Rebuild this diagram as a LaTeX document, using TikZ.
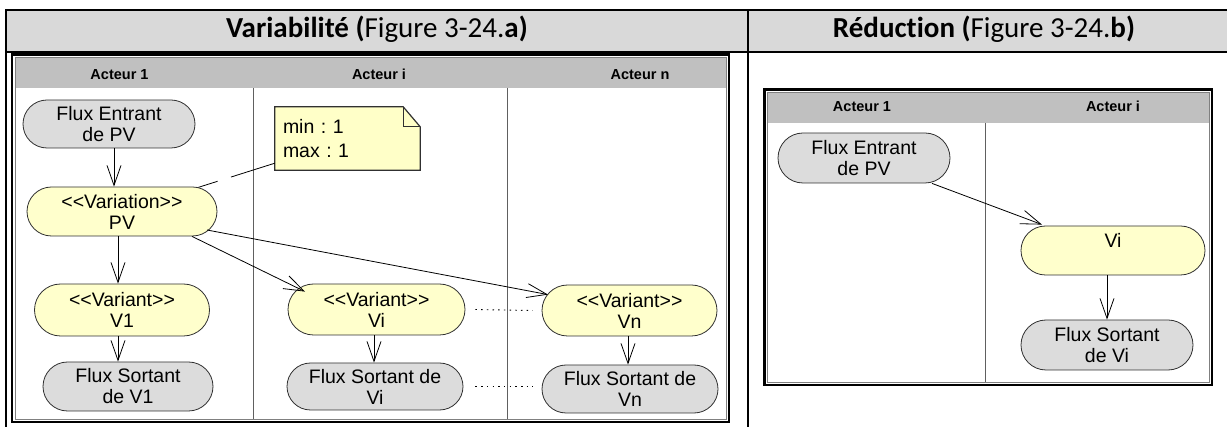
\documentclass[tikz,border=0pt]{standalone}
\usepackage{fontspec}
\setmainfont{Liberation Sans}
\newfontfamily\myHeadFamily[Ligatures=NoCommon]{Carlito}
\usetikzlibrary{shapes.misc,arrows.meta,calc}
\definecolor{hdrgray}{HTML}{D9D9D9}
\definecolor{lanegray}{HTML}{C0C0C0}
\definecolor{nodegray}{HTML}{DCDCDC}
\definecolor{nodeyellow}{HTML}{FFFFCC}
\definecolor{notefill}{HTML}{FFFFC8}
\definecolor{edgecol}{HTML}{303030}
\definecolor{divgray}{HTML}{606060}
\newcommand\myNodeFont{\fontsize{19.5}{21}\selectfont}
\newcommand\myNoteFont{\fontsize{19.5}{24}\selectfont\frenchspacing}
\newcommand\myLaneFont{\fontsize{14.5}{16}\selectfont\bfseries}
\newcommand\myHeadFont{\myHeadFamily\fontsize{29}{32}\selectfont}
\begin{document}
\begin{tikzpicture}[x=1pt,y=-1pt,
  act/.style={rounded rectangle, draw=edgecol, line width=0.8pt, inner sep=0pt, align=center, font=\myNodeFont},
  grayact/.style={act, fill=nodegray},
  yelact/.style={act, fill=nodeyellow},
  arr/.style={-{Straight Barb[length=20pt,width=14pt]}, line width=0.8pt},
  lanehdr/.style={font=\myLaneFont, anchor=base, inner sep=0pt},
  headtxt/.style={font=\myHeadFont, anchor=base, inner sep=0pt},
  frame/.style={line width=2.5pt},
  innerframe/.style={draw=gray, line width=0.8pt},
  divider/.style={draw=divgray, line width=0.8pt},
  tabline/.style={line width=2pt},
  dotline/.style={line width=0.9pt, dash pattern=on 1.5pt off 4.2pt},
  notelink/.style={line width=0.8pt, dash pattern=on 46pt off 14pt},
  noteshape/.style={draw=edgecol, line width=1.2pt, fill=notefill},
  notefold/.style={draw=edgecol, line width=0.8pt}
]
\useasboundingbox (0,0) rectangle (1227,427);

% ---- table ----
\fill[hdrgray] (6,10) rectangle (1227,52);
\draw[tabline] (1227,10) -- (6,10) -- (6,427);
\draw[tabline] (6,52) -- (1227,52);
\draw[tabline] (748,10) -- (748,427);
\node[headtxt] (h1) at (377,37.5) {\textbf{Variabilité (}Figure 3-24.\textbf{a)}};
\node[headtxt] (h2) at (984,37.5) {\textbf{Réduction (}Figure 3-24.\textbf{b)}};

% ---- left swimlane frame ----
\fill[lanegray] (15,58) rectangle (726,88);
\draw[innerframe] (15,57.5) rectangle (726,419.5);
\draw[frame] (12,54.5) rectangle (729,422);
\draw[divider] (253,88) -- (253,419.5);
\draw[divider] (507,88) -- (507,419.5);
\node[lanehdr] (l1) at (119.5,80) {Acteur 1};
\node[lanehdr] (l2) at (379,80) {Acteur i};
\node[lanehdr] (l3) at (640,80) {Acteur n};

% ---- right swimlane frame ----
\fill[lanegray] (767.5,92.5) rectangle (1209,123);
\draw[innerframe] (767.5,92.5) rectangle (1209,382);
\draw[frame] (764.5,89.5) rectangle (1212,385);
\draw[divider] (985,123) -- (985,382);
\node[lanehdr] (r1) at (862,112) {Acteur 1};
\node[lanehdr] (r2) at (1113,112) {Acteur i};

% ---- left nodes ----
\node[grayact, minimum width=172, minimum height=48] (fe) at (109,124) {Flux Entrant\\de PV};
\node[yelact, minimum width=190, minimum height=49] (var) at (122,211.5) {{<}{<}Variation{>}{>}\\PV};
\node[yelact, minimum width=175, minimum height=52] (v1) at (122,310) {{<}{<}Variant{>}{>}\\V1};
\node[grayact, minimum width=170, minimum height=49] (fs1) at (128,386.5) {Flux Sortant\\de V1};
\node[yelact, minimum width=177, minimum height=51] (vi) at (376.5,309.5) {{<}{<}Variant{>}{>}\\Vi};
\node[grayact, minimum width=176, minimum height=47] (fsi) at (375,386.5) {Flux Sortant de\\Vi};
\node[yelact, minimum width=175, minimum height=51] (vn) at (629.5,310.5) {{<}{<}Variant{>}{>}\\Vn};
\node[grayact, minimum width=176, minimum height=48] (fsn) at (630,389) {Flux Sortant de\\Vn};

% note
\node[minimum width=145, minimum height=63, inner sep=0pt] (note) at (347.5,138.5) {};
\draw[noteshape] (note.north west) -- ($(note.north east)+(-17,0)$) -- ($(note.north east)+(0,20)$) -- (note.south east) -- (note.south west) -- cycle;
\draw[notefold] ($(note.north east)+(-17,0)$) -- ($(note.north east)+(-17,20)$) -- ($(note.north east)+(0,20)$);
\node[inner sep=0pt, text width=129, align=left, font=\myNoteFont] (notetext) at (note.center) {min : 1\\max : 1};
\coordinate (np) at ($(note.south west)+(0,-7)$);
\draw[notelink] (np) -- (var);

% left connectors
\draw[arr] ($(fe.south)+(5,0)$) -- ($(var.north)+(-8,0)$);
\draw[arr] ($(var.south)+(-4,0)$) -- ($(v1.north)+(-4,0)$);
\draw[arr] ($(v1.south)+(-4,0)$) -- ($(fs1.north)+(-10,0)$);
\draw[arr] ($(vi.south)+(-2.5,0)$) -- ($(fsi.north)+(-1,0)$);
\draw[arr] ($(vn.south)+(-1.5,0)$) -- ($(fsn.north)+(-2,0)$);
\draw[arr] ($(var.south)+(70,0)$) -- ($(vi.north)+(-71.5,8)$);
\draw[arr] ($(var.center)+(85,18.5)$) -- ($(vn.north)+(-81.5,10)$);
\draw[dotline] ($(vi.east)+(10,0)$) -- ($(vn.west)+(-9,0)$);
\draw[dotline] ($(fsi.east)+(12,0)$) -- ($(fsn.west)+(-9,-2.5)$);

% ---- right nodes ----
\node[grayact, minimum width=172, minimum height=50] (fe2) at (864,158) {Flux Entrant\\de PV};
\node[yelact, minimum width=184, minimum height=49] (vi2) at (1113,250.5) {Vi\\\mbox{}};
\node[grayact, minimum width=172, minimum height=50] (fs2) at (1107,345) {Flux Sortant\\de Vi};
\draw[arr] ($(fe2.south)+(68,0)$) -- ($(vi2.north)+(-71,-1)$);
\draw[arr] ($(vi2.south)+(-6,0)$) -- (fs2.north);
\end{tikzpicture}
\end{document}
